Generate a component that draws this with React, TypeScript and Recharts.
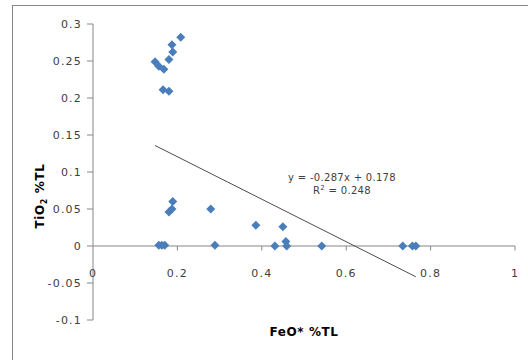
import React from "react";
import {
  ScatterChart,
  Scatter,
  XAxis,
  YAxis,
  ReferenceLine,
  ReferenceDot,
} from "recharts";

// FeO* %TL vs TiO2 %TL
const feo = [
  0.208, 0.187, 0.189, 0.18, 0.147, 0.156, 0.168, 0.166, 0.18, 0.189, 0.187,
  0.18, 0.279, 0.386, 0.45, 0.156, 0.163, 0.17, 0.289, 0.431, 0.457, 0.459,
  0.542, 0.734, 0.757, 0.765,
];
const tio2 = [
  0.282, 0.272, 0.262, 0.252, 0.249, 0.243, 0.239, 0.211, 0.209, 0.06, 0.05,
  0.046, 0.05, 0.028, 0.026, 0.001, 0.001, 0.001, 0.001, 0.0, 0.006, 0.0, 0.0,
  0.0, 0.0, 0.0,
];

const xTicks = [0, 0.2, 0.4, 0.6, 0.8, 1];
const yTicks = [-0.1, -0.05, 0, 0.05, 0.1, 0.15, 0.2, 0.25, 0.3];

// linear trendline shown in the chart
const slope = -0.287;
const intercept = 0.178;
const trendX = [0.147, 0.765];

const points = feo.map((x, i) => ({ x, y: tio2[i] }));
const trendSegment = trendX.map((x) => ({ x, y: slope * x + intercept }));

const FONT = "'DejaVu Sans', sans-serif";
const AXIS_GRAY = "#868686";
const TEXT = "#404040";
const BLUE = "#4a7ebb";

function Diamond(props: any) {
  const { cx, cy } = props;
  const r = 4.5;
  return (
    <polygon
      points={`${cx},${cy - r} ${cx + r},${cy} ${cx},${cy + r} ${cx - r},${cy}`}
      fill={BLUE}
    />
  );
}

export default function App() {
  return (
    <div
      style={{
        position: "absolute",
        left: 0,
        top: 0,
        width: 528,
        height: 360,
        background: "#fff",
        fontFamily: FONT,
        overflow: "hidden",
      }}
    >
      <div
        style={{
          position: "absolute",
          left: 12,
          top: 5,
          width: 530,
          height: 370,
          borderLeft: `1px solid ${AXIS_GRAY}`,
          borderTop: `1px solid ${AXIS_GRAY}`,
        }}
      />
      <ScatterChart
        width={528}
        height={360}
        margin={{ top: 24, right: 13, left: 0, bottom: 40 }}
        style={{ position: "absolute", left: 0, top: 0 }}
      >
        <XAxis type="number" dataKey="x" domain={[0, 1]} ticks={xTicks} hide />
        <YAxis
          type="number"
          dataKey="y"
          domain={[-0.1, 0.3]}
          ticks={yTicks}
          width={93}
          interval={0}
          axisLine={{ stroke: AXIS_GRAY }}
          tickLine={{ stroke: AXIS_GRAY }}
          tickSize={6}
          tickMargin={5}
          tick={{ fill: TEXT, fontSize: 11, fontFamily: FONT, letterSpacing: 1.2 }}
          tickFormatter={(v: number) => String(v)}
        />
        <ReferenceLine y={0} stroke={AXIS_GRAY} strokeWidth={1} />
        {xTicks.slice(1).map((v) => (
          <ReferenceLine
            key={"t" + v}
            segment={[
              { x: v, y: 0 },
              { x: v, y: -0.006 },
            ]}
            stroke={AXIS_GRAY}
          />
        ))}
        {xTicks.map((v) => (
          <ReferenceDot
            key={"l" + v}
            x={v}
            y={0}
            r={0}
            fill="none"
            stroke="none"
            label={{
              value: String(v),
              position: "bottom",
              offset: 23,
              fill: TEXT,
              fontSize: 11,
              fontFamily: FONT,
              letterSpacing: 1.2,
            }}
          />
        ))}
        <ReferenceLine
          segment={trendSegment}
          stroke="#4d4d4d"
          strokeWidth={1}
        />
        <Scatter
          data={points}
          shape={Diamond}
          isAnimationActive={false}
        />
      </ScatterChart>
      <div
        style={{
          position: "absolute",
          left: 242,
          top: 171,
          width: 200,
          textAlign: "center",
          fontSize: 10,
          letterSpacing: 0.3,
          color: TEXT,
          lineHeight: "13px",
        }}
      >
        <div>y = -0.287x + 0.178</div>
        <div>
          R<sup style={{ fontSize: 7, verticalAlign: "top", lineHeight: "9px" }}>2</sup> = 0.248
        </div>
      </div>
      <div
        style={{
          position: "absolute",
          left: 204,
          top: 325,
          width: 200,
          textAlign: "center",
          fontSize: 12,
          fontWeight: "bold",
          letterSpacing: 0.6,
          color: "#000",
        }}
      >
        FeO* %TL
      </div>
      <div
        style={{
          position: "absolute",
          left: 40,
          top: 196,
          width: 120,
          marginLeft: -60,
          marginTop: -8,
          height: 16,
          lineHeight: "16px",
          textAlign: "center",
          transform: "rotate(-90deg)",
          fontSize: 12,
          fontWeight: "bold",
          letterSpacing: 0.6,
          color: "#000",
          whiteSpace: "nowrap",
        }}
      >
        TiO<sub style={{ fontSize: 8, lineHeight: 0 }}>2</sub> %TL
      </div>
    </div>
  );
}
